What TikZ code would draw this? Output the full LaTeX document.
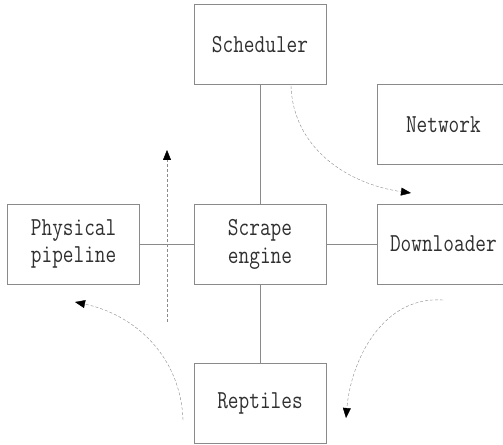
\documentclass[tikz,border=0pt]{standalone}
\usepackage{fontspec}
\usepackage{tikz}
\usetikzlibrary{arrows.meta,positioning}
\newfontfamily\boxfont[FakeStretch=0.8]{Latin Modern Mono}
\definecolor{edgegray}{HTML}{8A8A8A}
\definecolor{textgray}{HTML}{303030}

\begin{document}
\begin{tikzpicture}[
    x=1bp, y=-1bp,
    module/.style={
        draw=edgegray,
        thin,
        text=textgray,
        align=center,
        minimum width=132bp,
        minimum height=80bp,
        font=\boxfont\fontsize{26}{28}\selectfont
        },
    link/.style={
        draw=edgegray,
        thin
        },
    flow/.style={
        draw=edgegray,
        thin,
        dash pattern=on 3bp off 2bp,
        -{Triangle[length=10bp,width=8bp,color=black]}
        },
  ]
  \useasboundingbox (0,0) rectangle (503,445);
  % Engine in the middle
  \node[module] (engine) at (260,244) {Scrape\\engine};
  % Modules round it
  \node[module, above=119bp of engine] (scheduler) {Scheduler};
  \node[module, below=79bp of engine] (reptiles) {Reptiles};
  \node[module, left=54bp of engine] (pipeline) {Physical\\pipeline};
  \node[module, right=51bp of engine] (downloader) {Downloader};
  \node[module, above=39bp of downloader] (network) {Network};
  % Links
  \draw[link] (scheduler) -- (engine);
  \draw[link] (engine) -- (reptiles);
  \draw[link] (pipeline) -- (engine);
  \draw[link] (engine) -- (downloader);
  % Data flow
  \coordinate (schedout) at (291,86);
  \coordinate (downin) at (411,193);
  \coordinate (upfrom) at (167,322);
  \coordinate (upto) at (167,150);
  \coordinate (reptout) at (183,420);
  \coordinate (pipein) at (75,302);
  \coordinate (downout) at (443,300);
  \coordinate (reptin) at (346,418);
  \draw[flow] (schedout) to[out=-88,in=172] (downin);
  \draw[flow] (upfrom) -- (upto);
  \draw[flow] (reptout) to[out=92,in=-12] (pipein);
  \draw[flow] (downout) to[out=176,in=85] (reptin);
\end{tikzpicture}
\end{document}
